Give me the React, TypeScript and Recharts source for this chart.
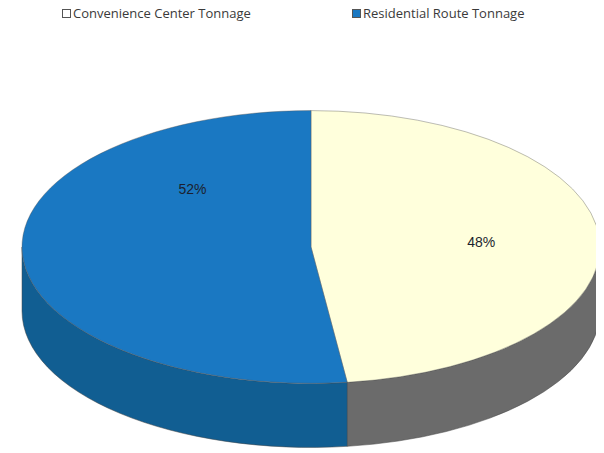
import { PieChart, Pie, Cell } from "recharts";

const NAMES = ["Convenience Center Tonnage", "Residential Route Tonnage"];
const SHARES = [48, 52];
const TOP_COLORS = ["#ffffdc", "#1a78c2"];
const SIDE_COLORS = ["#6b6b6b", "#115e92"];
const LEGEND_BOX = ["#ffffff", "#1a78c2"];

const data = NAMES.map((name, i) => ({ name, value: SHARES[i] }));
const total = SHARES.reduce((s, v) => s + v, 0);

const W = 604;
const H = 453;
const CX = 311;
const CY = 247;
const RX = 289;
const TILT = 0.472;
const DEPTH = 64;
// Excel nudged the big slice's label up-left, so the angle is set by hand for it
const LABEL_ANGLES: (number | null)[] = [null, 134];

const rad = (a: number) => (a * Math.PI) / 180;
const pt = (cx: number, cy: number, rx: number, ry: number, a: number, dy = 0) =>
  `${cx + rx * Math.cos(rad(a))},${cy - ry * Math.sin(rad(a)) + dy}`;

function sliceAngles(i: number) {
  const before = SHARES.slice(0, i).reduce((s, v) => s + v, 0);
  const start = 90 - (360 * before) / total;
  const end = start - (360 * SHARES[i]) / total;
  return { start, end };
}

function renderSlice(props: any) {
  const i: number = props.index;
  const cx: number = props.cx ?? CX;
  const cy: number = props.cy ?? CY;
  const rx: number = props.outerRadius ?? RX;
  const ry = rx * TILT;
  const { start, end } = sliceAngles(i);
  const large = start - end > 180 ? 1 : 0;

  // side wall: only the part of the arc on the front (lower) half shows
  const sides: string[] = [];
  for (let k = -2; k <= 1; k++) {
    const a = Math.max(end, -180 + 360 * k);
    const b = Math.min(start, 360 * k);
    if (a < b) {
      const lg = b - a > 180 ? 1 : 0;
      sides.push(
        `M${pt(cx, cy, rx, ry, b)} A${rx},${ry} 0 ${lg} 1 ${pt(cx, cy, rx, ry, a)} ` +
          `L${pt(cx, cy, rx, ry, a, DEPTH)} A${rx},${ry} 0 ${lg} 0 ${pt(cx, cy, rx, ry, b, DEPTH)} Z`
      );
    }
  }
  const top = `M${cx},${cy} L${pt(cx, cy, rx, ry, start)} A${rx},${ry} 0 ${large} 1 ${pt(cx, cy, rx, ry, end)} Z`;

  const la = LABEL_ANGLES[i] ?? (start + end) / 2;
  const lx = cx + rx * 0.59 * Math.cos(rad(la));
  const ly = cy - ry * 0.59 * Math.sin(rad(la));

  return (
    <g>
      {sides.map((d, j) => (
        <path key={j} d={d} fill={SIDE_COLORS[i]} stroke="#444" strokeWidth={0.5} />
      ))}
      <path d={top} fill={TOP_COLORS[i]} stroke="#555" strokeWidth={0.4} />
      <text
        x={lx}
        y={ly}
        textAnchor="middle"
        dominantBaseline="central"
        fontFamily="'Liberation Sans', Arial, sans-serif"
        fontSize={14}
        fill="#1c1f2e"
      >
        {`${Math.round((100 * SHARES[i]) / total)}%`}
      </text>
    </g>
  );
}

export default function App() {
  return (
    <div style={{ position: "relative", width: W, height: H, margin: "-8px 0 0 -8px", background: "#fff" }}>
      <div
        style={{
          position: "absolute",
          top: 4,
          left: 0,
          width: W,
          height: 18,
          fontFamily: "'Open Sans', sans-serif",
          fontSize: 13,
          color: "#3a3a3a",
        }}
      >
        {NAMES.map((n, i) => (
          <span
            key={n}
            style={{ position: "absolute", left: i === 0 ? 62 : 352, display: "flex", alignItems: "center", whiteSpace: "nowrap" }}
          >
            <span
              style={{
                display: "inline-block",
                width: 7,
                height: 7,
                background: LEGEND_BOX[i],
                border: "1px solid #555",
                marginRight: 2,
              }}
            />
            {n}
          </span>
        ))}
      </div>
      <PieChart width={W} height={H} margin={{ top: 0, right: 0, bottom: 0, left: 0 }} style={{ position: "absolute", top: 0, left: 0 }}>
        <Pie
          data={data}
          dataKey="value"
          nameKey="name"
          cx={CX}
          cy={CY}
          outerRadius={RX}
          startAngle={90}
          endAngle={-270}
          stroke="none"
          label={renderSlice}
          labelLine={false}
          isAnimationActive={false}
        >
          {data.map((_, i) => (
            <Cell key={i} fill="transparent" stroke="none" />
          ))}
        </Pie>
      </PieChart>
    </div>
  );
}
